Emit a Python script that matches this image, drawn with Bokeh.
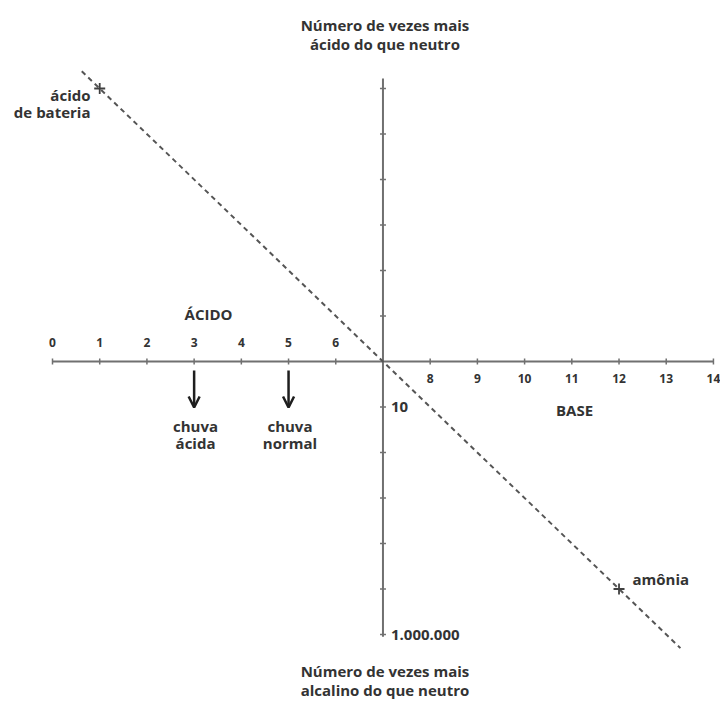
import math
from bokeh.plotting import figure
from bokeh.models import ColumnDataSource, Arrow, OpenHead
from bokeh.core.properties import value
from bokeh.embed import file_html
from bokeh.resources import INLINE

# ---------------- data ----------------
acid_ph = [0, 1, 2, 3, 4, 5, 6]
acid_labels = ["0", "1", "2", "3", "4", "5", "6"]
base_ph = [8, 9, 10, 11, 12, 13, 14]
base_labels = ["8", "9", "10", "11", "12", "13", "14"]
neutral_ph = 7
decades_acid = [1, 2, 3, 4, 5, 6]          # 10^k times more acid
decades_base = [1, 2, 3, 4, 5, 6]          # 10^k times more alkaline
decade_label_pos = [1, 6]
decade_labels = ["10", "1.000.000"]
substances = ["ácido\nde bateria", "amônia"]
substance_ph = [1, 12]
rain_labels = ["chuva\nácida", "chuva\nnormal"]
rain_ph = [3, 5]
line_ph = [0.62, 13.3]                      # extent of dashed guide line

title_top = "Número de vezes mais\nácido do que neutro"
title_bottom = "Número de vezes mais\nalcalino do que neutro"
acid_word = "ÁCIDO"
base_word = "BASE"

# ---------------- layout ----------------
W, H = 720, 702
X0_WIN, PXX = 52.0, 47.21      # px of pH 0, px per pH unit
Y0_WIN, PXY = 361.0, 45.5      # px of neutral line, px per decade

def wx(px):
    return (px - X0_WIN) / PXX

def wy(py):
    return (Y0_WIN - py) / PXY

p = figure(width=W, height=H,
           x_range=(wx(0), wx(W)),
           y_range=(wy(H), wy(0)),
           output_backend="svg", toolbar_location=None, min_border=0)
p.axis.visible = False
p.grid.visible = False
p.outline_line_color = None
p.background_fill_color = "white"

FONT = value("Open Sans")
TXT = "#333333"
AX = "#707070"

def y_of(ph):
    return neutral_ph - ph   # decades relative to neutral

# axes
p.segment(x0=[min(acid_ph)], y0=[0], x1=[max(base_ph)], y1=[0], line_color=AX, line_width=2)
p.segment(x0=[neutral_ph], y0=[-max(decades_base) - 0.05], x1=[neutral_ph], y1=[max(decades_acid) + 0.22],
          line_color=AX, line_width=2)

# ticks
all_ph = acid_ph + base_ph
p.scatter(x=all_ph, y=[0] * len(all_ph), marker="dash", angle=math.pi / 2, size=6,
          line_color=AX, line_width=1.5)
yt = decades_acid + [-d for d in decades_base]
p.scatter(x=[neutral_ph] * len(yt), y=yt, marker="dash", size=6, line_color=AX, line_width=1.5)

# tick labels
p.text(x=acid_ph, y=[wy(342)] * len(acid_ph), text=acid_labels, text_font=FONT,
       text_font_style="bold", text_font_size="12px", text_color=TXT,
       text_align="center", text_baseline="middle")
p.text(x=base_ph, y=[wy(378)] * len(base_ph), text=base_labels, text_font=FONT,
       text_font_style="bold", text_font_size="12px", text_color=TXT,
       text_align="center", text_baseline="middle")
p.text(x=[neutral_ph + 8 / PXX] * len(decade_labels), y=[-d for d in decade_label_pos],
       text=decade_labels, text_font=FONT, text_font_style="bold", text_font_size="15px",
       text_color=TXT, text_align="left", text_baseline="middle")

# dashed guide line
p.line(x=line_ph, y=[y_of(v) for v in line_ph], line_color="#555555", line_width=2,
       line_dash="5 4")

# substances
p.scatter(x=substance_ph, y=[y_of(v) for v in substance_ph], marker="cross", size=11,
          line_color="#404040", line_width=1.8)
p.text(x=[wx(90)], y=[wy(103)], text=[substances[0]], text_font=FONT, text_font_style="bold",
       text_font_size="15px", text_color=TXT, text_align="right", text_baseline="middle",
       text_line_height=0.84)
p.text(x=[wx(632)], y=[wy(578)], text=[substances[1]], text_font=FONT, text_font_style="bold",
       text_font_size="15px", text_color=TXT, text_align="left", text_baseline="middle")

# rain arrows and labels
arrow_src = ColumnDataSource(dict(x0=rain_ph, x1=rain_ph, y0=[wy(370)] * len(rain_ph),
                                  y1=[wy(407)] * len(rain_ph)))
p.add_layout(Arrow(source=arrow_src, x_start="x0", y_start="y0", x_end="x1", y_end="y1",
                   line_color="#1e1e1e", line_width=2.5,
                   end=OpenHead(size=11, line_color="#1e1e1e", line_width=2.5)))
p.text(x=[v + 0.03 for v in rain_ph], y=[wy(434)] * len(rain_ph), text=rain_labels, text_font=FONT,
       text_font_style="bold", text_font_size="15px", text_color=TXT, text_align="center",
       text_baseline="middle", text_line_height=0.88)

# region words
p.text(x=[wx(208)], y=[wy(313)], text=[acid_word], text_font=FONT, text_font_style="bold",
       text_font_size="15px", text_color=TXT, text_align="center", text_baseline="middle")
p.text(x=[wx(574)], y=[wy(409)], text=[base_word], text_font=FONT, text_font_style="bold",
       text_font_size="15px", text_color=TXT, text_align="center", text_baseline="middle")

# axis titles
p.text(x=[neutral_ph + 2 / PXX], y=[wy(34)], text=[title_top], text_font=FONT, text_font_style="bold",
       text_font_size="15px", text_color=TXT, text_align="center", text_baseline="middle",
       text_line_height=0.93)
p.text(x=[neutral_ph + 2 / PXX], y=[wy(680)], text=[title_bottom], text_font=FONT,
       text_font_style="bold", text_font_size="15px", text_color=TXT, text_align="center",
       text_baseline="middle", text_line_height=0.93)

open("out.html", "w").write(file_html(p, INLINE))
